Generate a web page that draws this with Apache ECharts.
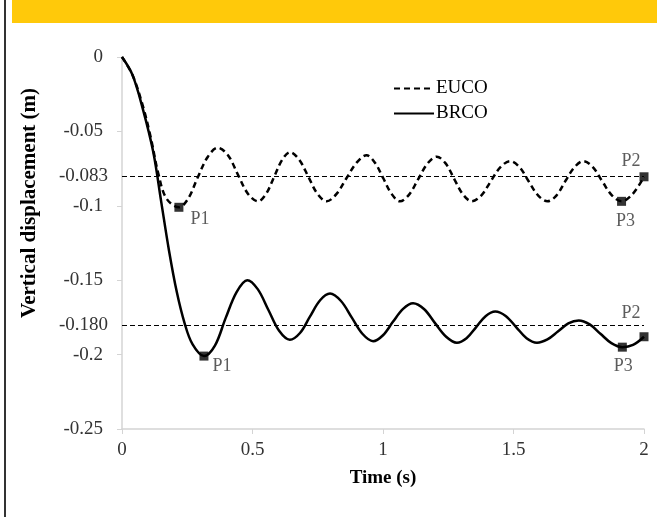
<!DOCTYPE html>
<html>
<head>
<meta charset="utf-8">
<script src="https://cdn.jsdelivr.net/npm/echarts@6/dist/echarts.min.js"></script>
<style>
  html, body { margin: 0; padding: 0; background: #fff; }
  #chart { width: 657px; height: 517px; }
</style>
</head>
<body>
<div id="chart"></div>
<script>
// EUCO (dashed)
var eucoTime = [0, 0.04, 0.08, 0.11, 0.14, 0.17, 0.218, 0.254, 0.29, 0.329, 0.367, 0.406, 0.444, 0.483, 0.521,
    0.552, 0.583, 0.614, 0.644, 0.679, 0.714, 0.749, 0.784, 0.822, 0.86, 0.899, 0.937, 0.969, 1.001, 1.033, 1.065,
    1.10, 1.135, 1.171, 1.206, 1.24, 1.273, 1.307, 1.34, 1.377, 1.413, 1.45, 1.487, 1.523, 1.558, 1.594, 1.63,
    1.665, 1.70, 1.734, 1.767, 1.804, 1.84, 1.877, 1.914, 1.957, 2.0];
var eucoDisp = [0, -0.012, -0.033, -0.054, -0.079, -0.095, -0.101, -0.095, -0.081, -0.067, -0.061, -0.066, -0.079, -0.092, -0.097,
    -0.092, -0.0805, -0.069, -0.064, -0.069, -0.0805, -0.092, -0.097, -0.092, -0.0815, -0.071, -0.066, -0.071, -0.0815, -0.092, -0.097,
    -0.0925, -0.082, -0.0715, -0.067, -0.0715, -0.082, -0.0925, -0.097, -0.093, -0.0835, -0.074, -0.070, -0.074, -0.0835, -0.093, -0.097,
    -0.093, -0.083, -0.074, -0.070, -0.074, -0.0835, -0.093, -0.097, -0.092, -0.0805];

// BRCO (solid)
var brcoTime = [0, 0.04, 0.08, 0.12, 0.15, 0.18, 0.21, 0.24, 0.27, 0.314, 0.356, 0.397, 0.439, 0.48, 0.52, 0.561, 0.602, 0.643,
    0.682, 0.72, 0.759, 0.797, 0.839, 0.88, 0.921, 0.962, 1.0, 1.038, 1.077, 1.115, 1.158, 1.2, 1.242, 1.283,
    1.32, 1.357, 1.394, 1.43, 1.47, 1.51, 1.55, 1.59, 1.63, 1.67, 1.71, 1.75, 1.792, 1.833, 1.875, 1.917, 1.958, 2.0];
var brcoDisp = [0, -0.012, -0.035, -0.064, -0.097, -0.130, -0.158, -0.179, -0.193, -0.201, -0.194, -0.1755, -0.158, -0.150, -0.156, -0.170, -0.184, -0.190,
    -0.1855, -0.1745, -0.1635, -0.159, -0.164, -0.175, -0.186, -0.191, -0.187, -0.178, -0.1693, -0.1655, -0.1695, -0.179, -0.188, -0.192,
    -0.189, -0.1815, -0.174, -0.171, -0.174, -0.1815, -0.189, -0.192, -0.1898, -0.1845, -0.179, -0.177, -0.1797, -0.186, -0.1923, -0.195, -0.1935, -0.188];

// P1, P2, P3 points
var markNames = ['P1', 'P2', 'P3'];
var eucoMarkTime = [0.218, 2.0, 1.914];
var eucoMarkDisp = [-0.101, -0.0805, -0.097];
var brcoMarkTime = [0.314, 2.0, 1.917];
var brcoMarkDisp = [-0.201, -0.188, -0.195];

// reference levels
var refLevels = [-0.083, -0.180];
var refLabels = ['-0.083', '-0.180'];

var font = 'Liberation Serif';

function pairs(ts, ys) {
    var out = [];
    for (var i = 0; i < ts.length; i++) out.push([ts[i], ys[i]]);
    return out;
}

// label offsets for the P markers
var eucoOffsets = [[21, 12], [-13, -16], [4, 20]];
var brcoOffsets = [[18, 10], [-13, -23], [1, 19]];

function marks(ts, ys, offs) {
    var out = [];
    for (var i = 0; i < ts.length; i++) {
        out.push({
            value: [ts[i], ys[i]],
            name: markNames[i],
            label: { offset: offs[i] }
        });
    }
    return out;
}

function refLine(i) {
    return {
        silent: true,
        symbol: 'none',
        lineStyle: { color: '#000', width: 1, type: [5, 3] },
        label: { show: true, position: 'start', distance: 14, formatter: refLabels[i], fontFamily: font, fontSize: 19, color: '#333' },
        data: [{ yAxis: refLevels[i] }]
    };
}

var chart = echarts.init(document.getElementById('chart'));
var option = {
    backgroundColor: '#fff',
    animation: false,
    graphic: [
        { type: 'rect', left: 12, top: 0, shape: { width: 645, height: 23 }, style: { fill: '#ffc90a' } },
        { type: 'rect', left: 4, top: 0, shape: { width: 2, height: 517 }, style: { fill: '#333' } },
        {
            type: 'text', x: 30, y: 203, rotation: Math.PI / 2,
            style: {
                text: 'Vertical displacement (m)', fill: '#000',
                font: 'bold 21px "Liberation Serif"', align: 'center', verticalAlign: 'middle'
            }
        }
    ],
    grid: { left: 122, right: 13, top: 57, bottom: 88 },
    legend: {
        data: ['EUCO', 'BRCO'],
        orient: 'vertical',
        left: 388,
        top: 74,
        itemWidth: 40,
        itemHeight: 14,
        itemGap: 6,
        itemStyle: { opacity: 0 },
        textStyle: { fontFamily: font, fontSize: 19, color: '#000', padding: [0, 0, 0, -3] }
    },
    xAxis: {
        type: 'value',
        min: 0, max: 2, interval: 0.5,
        name: 'Time (s)',
        nameLocation: 'middle',
        nameGap: 40,
        nameTextStyle: { fontFamily: font, fontSize: 19, fontWeight: 'bold', color: '#000' },
        axisLine: { show: true, onZero: false, lineStyle: { color: '#d4d4d4', width: 1.5 } },
        axisTick: { show: true, length: 5, lineStyle: { color: '#d4d4d4' } },
        axisLabel: { fontFamily: font, fontSize: 19, color: '#333', margin: 12 },
        splitLine: { show: false }
    },
    yAxis: {
        type: 'value',
        min: -0.25, max: 0, interval: 0.05,
        axisLine: { show: true, onZero: false, lineStyle: { color: '#d4d4d4', width: 1.5 } },
        axisTick: { show: true, length: 5, lineStyle: { color: '#d4d4d4' } },
        axisLabel: { fontFamily: font, fontSize: 19, color: '#333', margin: 19 },
        splitLine: { show: false }
    },
    series: [
        {
            name: 'EUCO',
            type: 'line',
            data: pairs(eucoTime, eucoDisp),
            smooth: 0.35,
            symbol: 'none',
            z: 3,
            itemStyle: { color: '#000' },
            lineStyle: { color: '#000', width: 2.5, type: [6, 4] },
            markLine: refLine(0)
        },
        {
            name: 'BRCO',
            type: 'line',
            data: pairs(brcoTime, brcoDisp),
            smooth: 0.35,
            symbol: 'none',
            z: 3,
            itemStyle: { color: '#000' },
            lineStyle: { color: '#000', width: 2.5, type: 'solid' },
            markLine: refLine(1)
        },
        {
            name: 'EUCO marks',
            type: 'scatter',
            symbol: 'rect',
            symbolSize: 9,
            z: 5,
            itemStyle: { color: '#000' },
            label: { show: true, position: 'inside', formatter: '{b}', fontFamily: font, fontSize: 18, color: '#333' },
            data: marks(eucoMarkTime, eucoMarkDisp, eucoOffsets)
        },
        {
            name: 'BRCO marks',
            type: 'scatter',
            symbol: 'rect',
            symbolSize: 9,
            z: 5,
            itemStyle: { color: '#000' },
            label: { show: true, position: 'inside', formatter: '{b}', fontFamily: font, fontSize: 18, color: '#333' },
            data: marks(brcoMarkTime, brcoMarkDisp, brcoOffsets)
        }
    ]
};
chart.setOption(option);
</script>
</body>
</html>
